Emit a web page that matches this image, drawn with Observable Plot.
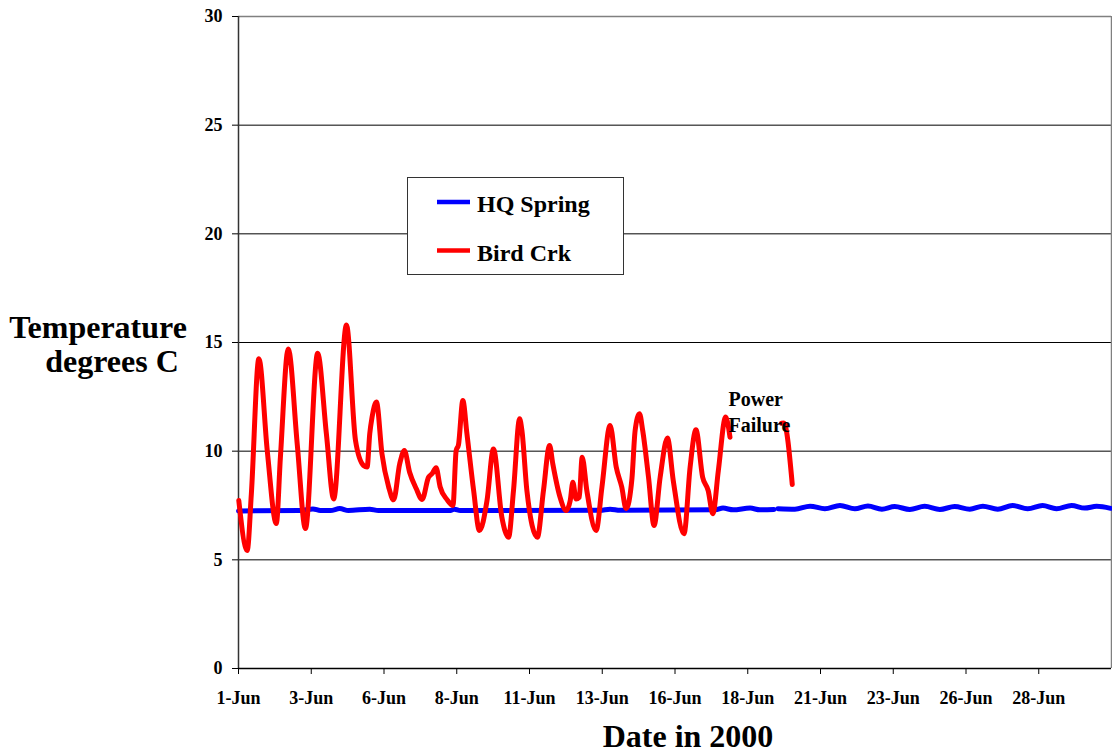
<!DOCTYPE html>
<html>
<head>
<meta charset="utf-8">
<script src="https://cdn.jsdelivr.net/npm/d3@7"></script>
<script src="https://cdn.jsdelivr.net/npm/@observablehq/plot@0.6"></script>
<style>
  body { margin: 0; background: #fff; }
  #wrap { position: relative; width: 1112px; height: 755px; overflow: hidden; }
  #legend { position: absolute; left: 407px; top: 177px; }
</style>
</head>
<body>
<div id="wrap"><div id="chart"></div><svg id="legend" width="218" height="99"></svg></div>
<script>
// ---- data (days after 1 June 2000, temperature °C) ----
const seriesNames = ["HQ Spring", "Bird Crk"];
const seriesColors = ["#0000FF", "#FF0000"];

const hqDays = [0,2.13,2.56,2.81,3.16,3.48,3.78,4.51,4.81,
  7.28,7.42,7.62, 12.43,12.77,13.11, 16.39,16.65,17.0,17.58,17.92,18.40,
  18.47,
  18.54,19.12,19.64,20.15,20.67,21.18,21.63,22.11,22.55,23.07,
  23.58,24.10,24.61,25.13,25.58,26.09,26.60,27.12,27.63,28.11,
  28.63,29.08,29.49,29.97];
const hqTemps = [7.25,7.27,7.34,7.27,7.27,7.36,7.27,7.33,7.27,
  7.27,7.33,7.27, 7.28,7.33,7.28, 7.3,7.38,7.3,7.38,7.3,7.32,
  NaN,
  7.35,7.33,7.47,7.35,7.5,7.35,7.48,7.33,7.45,7.32,
  7.46,7.32,7.45,7.33,7.47,7.33,7.5,7.35,7.5,7.35,
  7.5,7.38,7.46,7.37];

const birdDays = [0.01,0.30,0.44,0.70,0.99,1.30,1.44,1.71,2.02,2.30,
  2.72,3.02,3.27,3.71,4.02,4.30,4.42,4.51,4.59,4.74,
  4.93,5.16,5.33,5.54,5.70,5.88,6.11,6.31,6.53,6.65,
  6.79,6.93,7.16,7.37,7.48,7.56,7.71,7.85,8.08,8.28,
  8.54,8.76,9.05,9.28,9.45,9.66,9.74,9.91,10.27,10.48,
  10.69,10.80,11.05,11.26,11.40,11.49,11.60,11.71,11.81,11.97,
  12.29,12.49,12.77,12.98,13.17,13.32,13.52,13.63,13.78,13.89,
  14.09,14.28,14.49,14.74,14.94,15.31,15.52,15.72,15.95,16.14,
  16.30,16.49,16.74,16.89,17.8,18.66,18.74,19.03];
const birdTemps = [7.73,5.43,8.0,14.25,10.0,6.67,9.72,14.7,10.3,6.44,
  14.5,10.8,7.8,15.8,10.5,9.34,9.27,10.8,11.57,12.26,
  9.88,8.35,7.76,9.42,10.03,9.03,8.27,7.78,8.8,8.96,
  9.24,8.35,7.78,7.5,10.03,10.3,12.33,10.8,8.19,6.35,
  7.73,10.1,6.96,6.04,8.19,11.49,10.95,8.19,6.04,8.19,
  10.26,9.42,7.88,7.27,7.73,8.57,7.8,7.88,9.72,8.19,
  6.35,8.35,11.18,9.27,8.35,7.35,8.73,10.95,11.72,10.95,
  8.8,6.58,8.8,10.61,8.65,6.2,9.27,10.98,8.8,8.19,
  7.12,9.11,11.57,10.64,NaN,11.29,11.3,8.47];

const xTickDays = [0,2.5,5,7.5,10,12.5,15,17.5,20,22.5,25,27.5];
const yTicks = [0,5,10,15,20,25,30];
const gridValues = [5,10,15,20,25];
const noteDays = [16.84];
const noteTemps = [11.88];
const noteTexts = ["Power\nFailure"];

const yLabelLines = ["Temperature", "degrees C"];
const xLabel = "Date in 2000";

// ---- build ----
const t0 = Date.UTC(2000, 5, 1);
const toDate = d => new Date(t0 + d * 864e5);
const hq = hqDays.map((d, i) => ({date: toDate(d), temp: hqTemps[i]}));
const bird = birdDays.map((d, i) => ({date: toDate(d), temp: birdTemps[i]}));
const notes = noteDays.map((d, i) => ({date: toDate(d), temp: noteTemps[i], text: noteTexts[i]}));
const xStart = toDate(0), xEnd = toDate(30);

const font = "'Liberation Serif','Times New Roman',serif";

const plot = Plot.plot({
  width: 1112,
  height: 755,
  marginLeft: 238,
  marginRight: 1,
  marginTop: 16,
  marginBottom: 87,
  style: {fontFamily: font, fontWeight: "bold", background: "#fff", color: "#000", overflow: "visible"},
  x: {type: "utc", domain: [xStart, xEnd]},
  y: {domain: [0, 30]},
  marks: [
    Plot.ruleY(gridValues, {stroke: "#000", strokeWidth: 1}),
    Plot.ruleY([30], {stroke: "#808080", strokeWidth: 1.5}),
    Plot.ruleX([xEnd], {stroke: "#808080", strokeWidth: 1.5}),
    Plot.ruleX([xStart], {stroke: "#333", strokeWidth: 1.5}),
    Plot.ruleY([0], {stroke: "#000", strokeWidth: 1.5}),
    Plot.axisY({ticks: yTicks, tickSize: 6, tickPadding: 10, fontSize: 18, tickFormat: d => String(d), label: null}),
    Plot.axisX({ticks: xTickDays.map(toDate), tickSize: 6, tickPadding: 17, fontSize: 18,
      tickFormat: d3.utcFormat("%-d-%b"), label: null}),
    Plot.line(hq, {x: "date", y: "temp", stroke: seriesColors[0], strokeWidth: 5, curve: "monotone-x"}),
    Plot.line(bird, {x: "date", y: "temp", stroke: seriesColors[1], strokeWidth: 5, curve: "monotone-x"}),
    Plot.text(notes, {x: "date", y: "temp", text: "text", textAnchor: "start", lineAnchor: "middle",
      lineHeight: 1.3, fontSize: 20, fill: "#000"})
  ]
});
document.getElementById("chart").appendChild(plot);

// axis titles
const svg = d3.select(plot);
svg.append("text").attr("x", 98).attr("y", 338).attr("text-anchor", "middle")
  .attr("font-size", 32).attr("font-weight", "bold").attr("font-family", font).text(yLabelLines[0]);
svg.append("text").attr("x", 112).attr("y", 372).attr("text-anchor", "middle")
  .attr("font-size", 32).attr("font-weight", "bold").attr("font-family", font).text(yLabelLines[1]);
svg.append("text").attr("x", 688).attr("y", 747).attr("text-anchor", "middle")
  .attr("font-size", 32).attr("font-weight", "bold").attr("font-family", font).text(xLabel);

// legend
const lg = d3.select("#legend");
lg.append("rect").attr("x", 0.5).attr("y", 0.5).attr("width", 216).attr("height", 97)
  .attr("fill", "#fff").attr("stroke", "#333").attr("stroke-width", 1);
seriesNames.forEach((name, i) => {
  const cy = 25 + i * 48.5;
  lg.append("line").attr("x1", 30).attr("x2", 63).attr("y1", cy).attr("y2", cy)
    .attr("stroke", seriesColors[i]).attr("stroke-width", 4.5);
  lg.append("text").attr("x", 70).attr("y", cy + 10).attr("font-size", 24)
    .attr("font-weight", "bold").attr("font-family", font).attr("fill", "#000").text(name);
});
</script>
</body>
</html>
